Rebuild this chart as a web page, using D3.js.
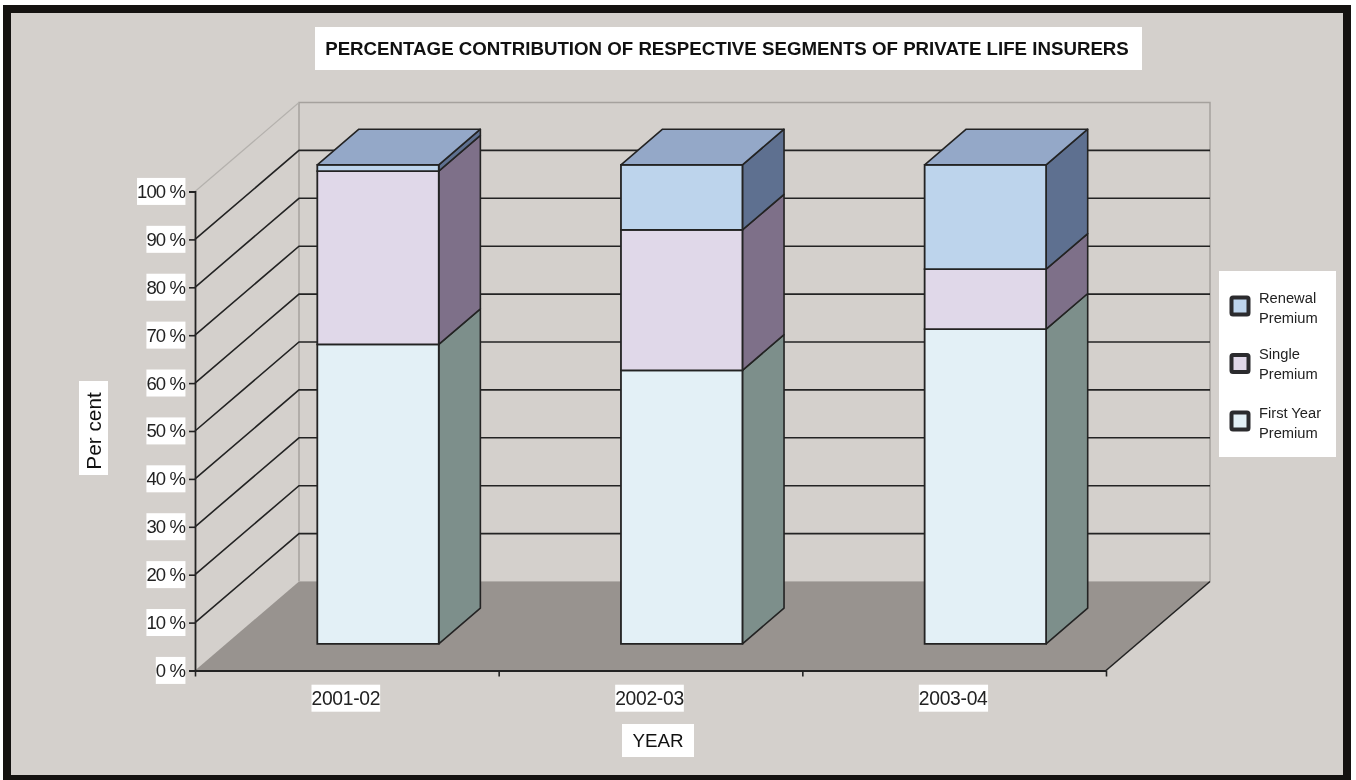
<!DOCTYPE html>
<html lang="en">
<head>
<meta charset="UTF-8">
<title>Percentage contribution of respective segments of private life insurers</title>
<script src="https://d3js.org/d3.v7.min.js"></script>
<style>
    html, body { margin: 0; padding: 0; background: #fff; overflow: hidden; }
    svg { display: block; filter: blur(0.5px); font-family: "Liberation Sans", Arial, sans-serif; }
</style>
</head>
<body>
<svg id="chart"></svg>
<script>
const years = ["2001-02", "2002-03", "2003-04"];
const firstYear = [62.5, 57.1, 65.7];
const single = [36.2, 29.3, 12.5];
const renewal = [1.3, 13.6, 21.8];
const yTicks = [0, 10, 20, 30, 40, 50, 60, 70, 80, 90, 100];
const legendLabels = [["Renewal", "Premium"], ["Single", "Premium"], ["First Year", "Premium"]];

const width = 1356, height = 780;
const depthX = 104, depthY = 89;   // how far the back wall sits from the front plane
const ink = "#232323";

const svg = d3.select("#chart").attr("width", width).attr("height", height);

const y = d3.scaleLinear().domain([0, 100]).range([670.5, 191.5]);
const x = d3.scaleBand().domain(years).range([195, 1106]).paddingInner(0.6).paddingOuter(0.3);
const xEdges = d3.scaleLinear().domain([0, 3]).range([195, 1106]);

// z is depth, 0 = front plane, 1 = back wall
const pt = (px, v, z) => [px + z * depthX, y(v) - z * depthY];
const poly = pts => d3.line()(pts) + "Z";

// frame
svg.append("rect").attr("x", 7).attr("y", 9).attr("width", 1340).attr("height", 770)
    .attr("fill", "#d4d0cc").attr("stroke", "#141210").attr("stroke-width", 8);

// floor
const left = xEdges(0), right = xEdges(3);
svg.append("path")
    .attr("d", poly([pt(left, 0, 0), pt(right, 0, 0), pt(right, 0, 1), pt(left, 0, 1)]))
    .attr("fill", "#98938f");

// back wall edges
svg.append("path")
    .attr("d", d3.line()([pt(left, 0, 1), pt(left, 100, 1), pt(right, 100, 1), pt(right, 0, 1)]))
    .attr("fill", "none").attr("stroke", "#a5a19d").attr("stroke-width", 1.5);
svg.append("path")
    .attr("d", d3.line()([pt(left, 0, 1), pt(right, 0, 1)]))
    .attr("stroke", "#b0aca8").attr("stroke-width", 1);

// gridlines on both walls
const grid = svg.append("g");
yTicks.filter(t => t > 0 && t < 100).forEach(t => {
    grid.append("path")
        .attr("d", d3.line()([pt(left, t, 0), pt(left, t, 1), pt(right, t, 1)]))
        .attr("fill", "none").attr("stroke", ink).attr("stroke-width", 1.6);
});
grid.append("path")
    .attr("d", d3.line()([pt(left, 100, 0), pt(left, 100, 1)]))
    .attr("stroke", "#b4b1ad").attr("stroke-width", 1.2);
grid.append("path")
    .attr("d", d3.line()([pt(right, 0, 0), pt(right, 0, 1)]))
    .attr("stroke", ink).attr("stroke-width", 1.6);

// stacked bars
const layers = [
    { name: "First Year Premium", values: firstYear, front: "#e3f0f6", side: "#7d8f8b" },
    { name: "Single Premium", values: single, front: "#e0d8e9", side: "#7e7089" },
    { name: "Renewal Premium", values: renewal, front: "#bdd4ec", side: "#5e7090" }
];
const zFront = 0.3, zBack = 0.7;

years.forEach((year, i) => {
    const g = svg.append("g").attr("class", "bar");
    const x0 = x(year), x1 = x0 + x.bandwidth();
    let base = 0;
    layers.forEach(layer => {
        const top = base + layer.values[i];
        g.append("path")
            .attr("d", poly([pt(x1, base, zFront), pt(x1, base, zBack), pt(x1, top, zBack), pt(x1, top, zFront)]))
            .attr("fill", layer.side).attr("stroke", ink).attr("stroke-width", 1.6).attr("stroke-linejoin", "round");
        g.append("path")
            .attr("d", poly([pt(x0, base, zFront), pt(x1, base, zFront), pt(x1, top, zFront), pt(x0, top, zFront)]))
            .attr("fill", layer.front).attr("stroke", ink).attr("stroke-width", 1.8);
        base = top;
    });
    g.append("path")
        .attr("d", poly([pt(x0, base, zFront), pt(x1, base, zFront), pt(x1, base, zBack), pt(x0, base, zBack)]))
        .attr("fill", "#94a8c8").attr("stroke", ink).attr("stroke-width", 1.6).attr("stroke-linejoin", "round");
});

// puts a white box behind every text of a selection
function whiteBox(sel, padX, padY) {
    sel.each(function () {
        const b = this.getBBox();
        d3.select(this.parentNode).insert("rect", () => this)
            .attr("x", b.x - padX).attr("y", b.y - padY)
            .attr("width", b.width + 2 * padX).attr("height", b.height + 2 * padY)
            .attr("fill", "#fff");
    });
}

// y axis
const yAxis = svg.append("g").attr("transform", "translate(195,0)")
    .call(d3.axisLeft(y).tickValues(yTicks).tickFormat(d => d + " %").tickSize(6).tickPadding(4));
yAxis.select(".domain").attr("stroke", ink).attr("stroke-width", 1.8);
yAxis.selectAll(".tick line").attr("stroke", ink).attr("stroke-width", 1.6);
yAxis.selectAll("text").attr("font-family", "Liberation Sans").attr("font-size", 18.5)
    .attr("letter-spacing", -0.9).attr("fill", "#222");
whiteBox(yAxis.selectAll("text"), 0, 3);

// x axis: ticks sit between the categories, labels under them
const xAxis = svg.append("g").attr("transform", "translate(0,670.5)")
    .call(d3.axisBottom(xEdges).tickValues([0, 1, 2, 3]).tickFormat("").tickSize(6).tickSizeOuter(0));
xAxis.select(".domain").attr("stroke", ink).attr("stroke-width", 1.8);
xAxis.selectAll(".tick line").attr("stroke", ink).attr("stroke-width", 1.6);

const xLabels = svg.append("g").attr("transform", "translate(-1,670)")
    .call(d3.axisBottom(x).tickSize(0).tickPadding(21));
xLabels.select(".domain").remove();
xLabels.selectAll("text").attr("font-family", "Liberation Sans").attr("font-size", 19.3)
    .attr("letter-spacing", -0.3).attr("fill", "#222");
whiteBox(xLabels.selectAll("text"), 0, 3);

// title and axis titles
function boxedText(txt, bx, by, bw, bh, size, weight, rotate, shift) {
    const g = svg.append("g");
    g.append("rect").attr("x", bx).attr("y", by).attr("width", bw).attr("height", bh).attr("fill", "#fff");
    const cx = bx + bw / 2, cy = by + bh / 2;
    g.append("text")
        .attr("transform", `translate(${cx},${cy}) rotate(${rotate || 0})`)
        .attr("text-anchor", "middle").attr("dx", shift || 0).attr("dy", "0.36em")
        .attr("font-size", size).attr("font-weight", weight || "normal").attr("fill", "#111")
        .text(txt);
}
boxedText("PERCENTAGE CONTRIBUTION OF RESPECTIVE SEGMENTS OF PRIVATE LIFE INSURERS", 315, 27, 827, 43, 18.7, "bold", 0, -1.5);
boxedText("Per cent", 79, 381, 29, 94, 20.8, "normal", -90, -3);
boxedText("YEAR", 622, 724, 72, 33, 18.8);

// legend
const legend = svg.append("g");
legend.append("rect").attr("x", 1219).attr("y", 271).attr("width", 117).attr("height", 186).attr("fill", "#fff");
const legendY = d3.scalePoint().domain([2, 1, 0]).range([306, 421]);
const legendRows = legend.selectAll("g").data(layers).join("g")
    .attr("transform", (d, i) => `translate(0,${legendY(i)})`);
legendRows.append("rect")
    .attr("x", 1231.5).attr("y", -8.5).attr("width", 17).attr("height", 17).attr("rx", 1.5)
    .attr("fill", d => d.front).attr("stroke", "#2b2b2e").attr("stroke-width", 4);
legendRows.each(function (d, i) {
    d3.select(this).selectAll("text").data(legendLabels[2 - i]).join("text")
        .attr("x", 1259).attr("y", (t, k) => -3.5 + k * 20 - (i === 1 ? 1.5 : 0))
        .attr("font-size", 14.7).attr("fill", "#222")
        .text(t => t);
});
</script>
</body>
</html>
